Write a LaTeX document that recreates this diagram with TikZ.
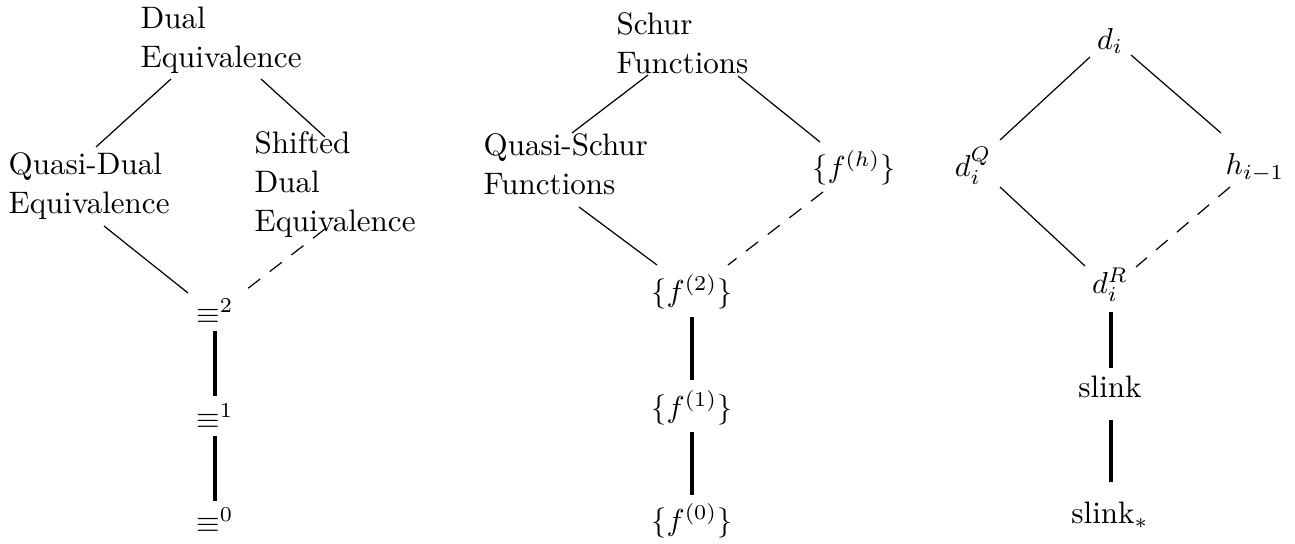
\documentclass[tikz,border=0pt]{standalone}
\begin{document}
\begin{tikzpicture}[x=0.33pt,y=-0.33pt,
  txt/.style={inner sep=0pt, font=\fontsize{10.25}{12.9}\selectfont, align=left, anchor=north west},
  mth/.style={inner sep=0pt, font=\fontsize{10.25}{12.9}\selectfont},
  edge/.style={line width=0.4pt},
  dedge/.style={line width=0.4pt, dash pattern=on 5pt off 4pt},
  vedge/.style={line width=1.1pt}]
\useasboundingbox (0,0) rectangle (1295,544);
% left diagram
\node[txt] (de) at (140,6) {Dual\\Equivalence};
\node[txt] (qd) at (8,152) {Quasi-Dual\\Equivalence};
\node[txt] (sd) at (254,131) {Shifted\\Dual\\Equivalence};
\node[mth] (e2) at (215,311) {$\equiv^2$};
\node[mth] (e1) at (215,416) {$\equiv^1$};
\node[mth] (e0) at (215,520) {$\equiv^0$};
\draw[edge] ([shift={(31,73)}]de.north west) -- ([shift={(88,-5)}]qd.north west);
\draw[edge] ([shift={(121,73)}]de.north west) -- ([shift={(71,6)}]sd.north west);
\draw[edge] ([shift={(96,74)}]qd.north west) -- ([shift={(-27,-18)}]e2.center);
\draw[dedge] ([shift={(71,98)}]sd.north west) -- ([shift={(27,-18)}]e2.center);
\draw[vedge] ([shift={(0,20)}]e2.center) -- ([shift={(0,-20)}]e1.center);
\draw[vedge] ([shift={(0,20)}]e1.center) -- ([shift={(0,-19)}]e0.center);
% middle diagram
\node[txt] (sf) at (616,12) {Schur\\Functions};
\node[txt] (qs) at (483,133) {Quasi-Schur\\Functions};
\node[mth] (fh) at (854,168) {$\{f^{(h)}\}$};
\node[mth] (f2) at (692,292) {$\{f^{(2)}\}$};
\node[mth] (f1) at (692,408) {$\{f^{(1)}\}$};
\node[mth] (f0) at (692,521) {$\{f^{(0)}\}$};
\draw[edge] ([shift={(32,63)}]sf.north west) -- ([shift={(89,0)}]qs.north west);
\draw[edge] ([shift={(122,64)}]sf.north west) -- ([shift={(-34,-26)}]fh.center);
\draw[edge] ([shift={(96,74)}]qs.north west) -- ([shift={(-35,-27)}]f2.center);
\draw[dedge] ([shift={(-31,24)}]fh.center) -- ([shift={(36,-27)}]f2.center);
\draw[vedge] ([shift={(0,25)}]f2.center) -- ([shift={(0,-28)}]f1.center);
\draw[vedge] ([shift={(0,24)}]f1.center) -- ([shift={(0,-26)}]f0.center);
% right diagram
\node[mth] (di) at (1110,41) {$d_i$};
\node[mth] (dq) at (973,166) {$d_i^Q$};
\node[mth] (hi) at (1255,168) {$h_{i-1}$};
\node[mth] (dr) at (1110,285) {$d_i^R$};
\node[mth] (sl) at (1110,387) {slink};
\node[mth] (sls) at (1110,515) {slink$_*$};
\draw[edge] ([shift={(-20,16)}]di.center) -- ([shift={(27,-26)}]dq.center);
\draw[edge] ([shift={(21,14)}]di.center) -- ([shift={(-34,-35)}]hi.center);
\draw[edge] ([shift={(27,21)}]dq.center) -- ([shift={(-25,-19)}]dr.center);
\draw[dedge] ([shift={(-25,19)}]hi.center) -- ([shift={(26,-18)}]dr.center);
\draw[vedge] ([shift={(1,27)}]dr.center) -- ([shift={(1,-19)}]sl.center);
\draw[vedge] ([shift={(1,33)}]sl.center) -- ([shift={(1,-33)}]sls.center);
\end{tikzpicture}
\end{document}
